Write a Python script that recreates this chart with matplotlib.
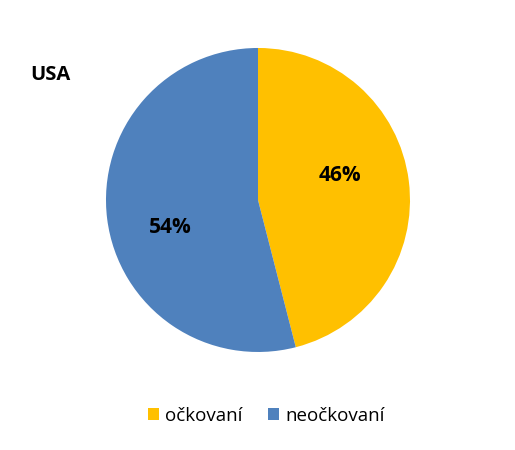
import matplotlib.pyplot as plt
from matplotlib.patches import Patch

plt.rcParams['font.family'] = ['Open Sans', 'DejaVu Sans']

# data
labels = ['očkovaní', 'neočkovaní']
values = [46, 54]
colors = ['#FFC000', '#4F81BD']
title = 'USA'

fig = plt.figure(figsize=(5.15, 4.5), dpi=100)
ax = fig.add_axes([0.2058, 0.2178, 0.5903, 0.6756])

wedges, texts, autotexts = ax.pie(values, colors=colors, startangle=90, counterclock=False,
                                  autopct='%d%%', pctdistance=0.6,
                                  textprops={'fontsize': 15, 'fontweight': 'bold', 'color': 'black'})
# Excel-style label placement
autotexts[0].set_position((0.54, 0.16))
autotexts[1].set_position((-0.58, -0.18))
ax.set_xlim(-1, 1)
ax.set_ylim(-1, 1)
ax.set_aspect('equal')

fig.text(30 / 515, 1 - 75 / 450, title, fontsize=14.5, fontweight='bold', va='center', ha='left')

handles = [Patch(facecolor=c, edgecolor='none') for c in colors]
fig.legend(handles, labels, loc='center', bbox_to_anchor=(266 / 515, 1 - 416 / 450),
           ncol=2, frameon=False, fontsize=13.5, handlelength=0.6, handleheight=0.6,
           handletextpad=0.3, columnspacing=1.4)

fig.savefig('out.png', dpi=100)
